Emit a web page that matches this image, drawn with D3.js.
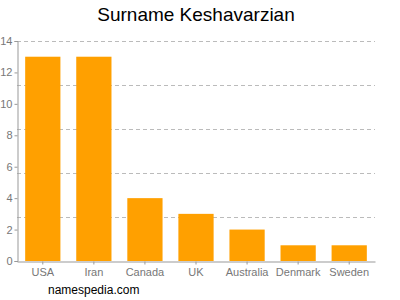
<!DOCTYPE html>
<html>
<head>
<meta charset="utf-8">
<script src="https://cdn.jsdelivr.net/npm/d3@7"></script>
<style>
  body { margin: 0; background: #fff; }
  text { font-family: "Liberation Sans", Arial, sans-serif; }
</style>
</head>
<body>
<div id="chart"></div>
<script>
const countries = ["USA", "Iran", "Canada", "UK", "Australia", "Denmark", "Sweden"];
const counts = [13, 13, 4, 3, 2, 1, 1];
const yTicks = [0, 2, 4, 6, 8, 10, 12, 14];
const gridValues = [2.8, 5.6, 8.4, 11.2, 14];

const svg = d3.select("#chart")
  .append("svg")
  .attr("width", 400)
  .attr("height", 300);

const margin = { top: 41, right: 25, bottom: 39, left: 17 };
const width = 400 - margin.left - margin.right;
const height = 300 - margin.top - margin.bottom;

const x = d3.scaleBand()
  .domain(countries)
  .range([margin.left, margin.left + width])
  .paddingInner(0.31)
  .paddingOuter(0.16);

const y = d3.scaleLinear()
  .domain([0, 14])
  .range([margin.top + height, margin.top]);

// title
svg.append("text")
  .attr("x", 196)
  .attr("y", 21)
  .attr("text-anchor", "middle")
  .attr("font-size", 19)
  .attr("fill", "#000")
  .text("Surname Keshavarzian");

// grid lines
svg.append("g")
  .selectAll("line")
  .data(gridValues)
  .join("line")
  .attr("x1", margin.left)
  .attr("x2", margin.left + width)
  .attr("y1", d => Math.round(y(d)) + 0.5)
  .attr("y2", d => Math.round(y(d)) + 0.5)
  .attr("stroke", "#bbb")
  .attr("stroke-dasharray", "4,3");

// bars
svg.append("g")
  .selectAll("rect")
  .data(countries)
  .join("rect")
  .attr("x", d => x(d))
  .attr("y", (d, i) => y(counts[i]))
  .attr("width", x.bandwidth())
  .attr("height", (d, i) => y(0) - y(counts[i]))
  .attr("fill", "#ffa000");

// y axis
const yAxis = svg.append("g")
  .attr("transform", `translate(${margin.left + 0.5},0)`)
  .call(d3.axisLeft(y).tickValues(yTicks).tickSize(3).tickPadding(2));
yAxis.select(".domain").attr("stroke", "#999");
yAxis.selectAll(".tick line").attr("stroke", "#999");
yAxis.selectAll(".tick text")
  .attr("fill", "#777")
  .attr("font-size", 11)
  .attr("font-family", "Liberation Sans, Arial, sans-serif");

// x axis
const xAxis = svg.append("g")
  .attr("transform", `translate(0,${margin.top + height + 0.5})`)
  .call(d3.axisBottom(x).tickSize(3).tickSizeOuter(0).tickPadding(4));
xAxis.select(".domain").attr("stroke", "#999");
xAxis.selectAll(".tick line").attr("stroke", "#999");
xAxis.selectAll(".tick text")
  .attr("fill", "#777")
  .attr("font-size", 11)
  .attr("font-family", "Liberation Sans, Arial, sans-serif");

// footer
svg.append("text")
  .attr("x", 48)
  .attr("y", 294)
  .attr("font-size", 12)
  .attr("fill", "#000")
  .text("namespedia.com");
</script>
</body>
</html>
